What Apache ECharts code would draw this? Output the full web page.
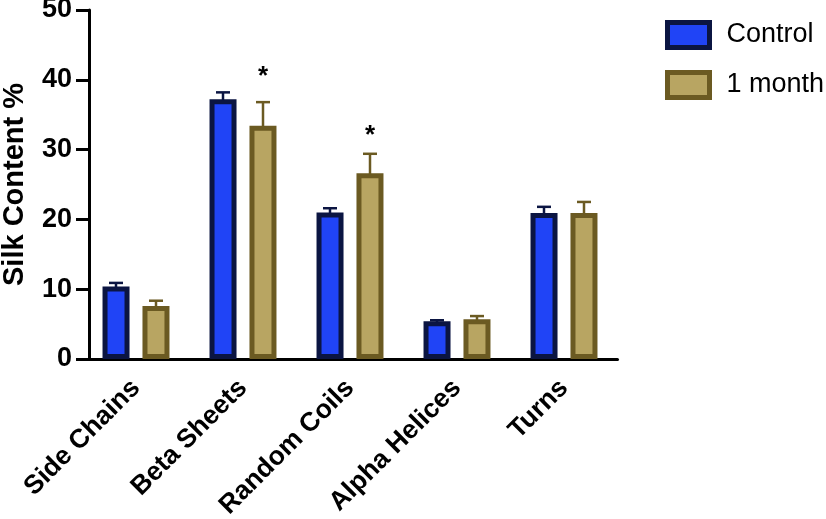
<!DOCTYPE html>
<html>
<head>
<meta charset="utf-8">
<script src="https://cdn.jsdelivr.net/npm/echarts@6/dist/echarts.min.js"></script>
<style>
  html, body { margin: 0; padding: 0; background: #fff; }
  #chart { width: 826px; height: 519px; }
</style>
</head>
<body>
<div id="chart"></div>
<script>
// chart data
var categories = ["Side Chains", "Beta Sheets", "Random Coils", "Alpha Helices", "Turns"];
var controlValues = [10.4, 37.2, 21.0, 5.4, 20.9];
var controlErrors = [0.5, 1.0, 0.6, 0.15, 0.9];
var monthValues = [7.6, 33.4, 26.6, 5.7, 20.9];
var monthErrors = [0.75, 3.4, 2.8, 0.45, 1.6];
var starAt = [null, 40.7, 32.2, null, null];
var yTicks = [0, 10, 20, 30, 40, 50];

var blueFill = "#2044f6";
var blueEdge = "#0b1542";
var tanFill = "#b8a562";
var tanEdge = "#6b5a22";

var chartDom = document.getElementById("chart");
var myChart = echarts.init(chartDom);

// one-sided error bars (cap on top), shifted to the bar's slot in the group
function errorBars(values, errors, color, dx, stars) {
  return {
    type: "custom",
    z: 5,
    data: values.map(function (v, i) {
      return [i, v, errors[i], stars ? stars[i] : null];
    }),
    renderItem: function (params, api) {
      var base = api.coord([api.value(0), api.value(1)]);
      var top = api.coord([api.value(0), api.value(1) + api.value(2)]);
      var x = base[0] + dx;
      var kids = [
        { type: "line", shape: { x1: x, y1: base[1] + 1, x2: x, y2: top[1] },
          style: { stroke: color, lineWidth: 2.5 } },
        { type: "line", shape: { x1: x - 7, y1: top[1], x2: x + 7, y2: top[1] },
          style: { stroke: color, lineWidth: 2.5 } }
      ];
      var s = api.value(3);
      if (s != null && !isNaN(s)) {
        var p = api.coord([api.value(0), s]);
        kids.push({
          type: "text",
          style: {
            x: x, y: p[1] + 2, text: "*",
            fill: "#000", font: "bold 26px 'Liberation Sans', Arial",
            align: "center", verticalAlign: "middle"
          }
        });
      }
      return { type: "group", children: kids };
    }
  };
}

var option = {
  animation: false,
  backgroundColor: "#fff",
  grid: { left: 82.5, top: 10, width: 535, height: 349, outerBoundsMode: "none", containLabel: false },
  legend: {
    orient: "vertical",
    left: 665,
    top: 20,
    padding: 0,
    icon: "rect",
    itemWidth: 42,
    itemHeight: 25,
    itemGap: 20,
    textStyle: {
      fontFamily: "'Liberation Sans', Arial",
      fontSize: 27,
      color: "#000",
      padding: [0, 0, 0, 12]
    },
    data: [
      { name: "Control", itemStyle: { color: blueFill, borderColor: blueEdge, borderWidth: 5 } },
      { name: "1 month", itemStyle: { color: tanFill, borderColor: tanEdge, borderWidth: 5 } }
    ]
  },
  xAxis: {
    type: "category",
    data: categories,
    axisLine: { lineStyle: { color: "#000", width: 3 } },
    axisTick: { alignWithLabel: true, length: 13, lineStyle: { color: "#000", width: 3 } },
    axisLabel: {
      rotate: 45,
      margin: 25,
      interval: 0,
      color: "#000",
      fontWeight: "bold",
      fontSize: 26.5,
      fontFamily: "'Liberation Sans', Arial"
    }
  },
  yAxis: {
    type: "value",
    min: yTicks[0],
    max: yTicks[yTicks.length - 1],
    interval: 10,
    offset: -6.5,
    name: "Silk Content %",
    nameLocation: "middle",
    nameRotate: 90,
    nameGap: 60,
    nameTextStyle: {
      color: "#000",
      fontWeight: "bold",
      fontSize: 29,
      fontFamily: "'Liberation Sans', Arial"
    },
    splitLine: { show: false },
    axisLine: { show: true, lineStyle: { color: "#000", width: 3 } },
    axisTick: { show: true, length: 13, lineStyle: { color: "#000", width: 3 } },
    axisLabel: {
      margin: 17,
      color: "#000",
      fontWeight: "bold",
      fontSize: 27,
      fontFamily: "'Liberation Sans', Arial"
    }
  },
  series: [
    {
      name: "Control",
      type: "bar",
      data: controlValues,
      barWidth: 27,
      barGap: "48%",
      itemStyle: { color: blueFill, borderColor: blueEdge, borderWidth: 5 }
    },
    {
      name: "1 month",
      type: "bar",
      data: monthValues,
      barWidth: 27,
      itemStyle: { color: tanFill, borderColor: tanEdge, borderWidth: 5 }
    },
    errorBars(controlValues, controlErrors, blueEdge, -20, null),
    errorBars(monthValues, monthErrors, tanEdge, 20, starAt)
  ]
};
option && myChart.setOption(option);
</script>
</body>
</html>
